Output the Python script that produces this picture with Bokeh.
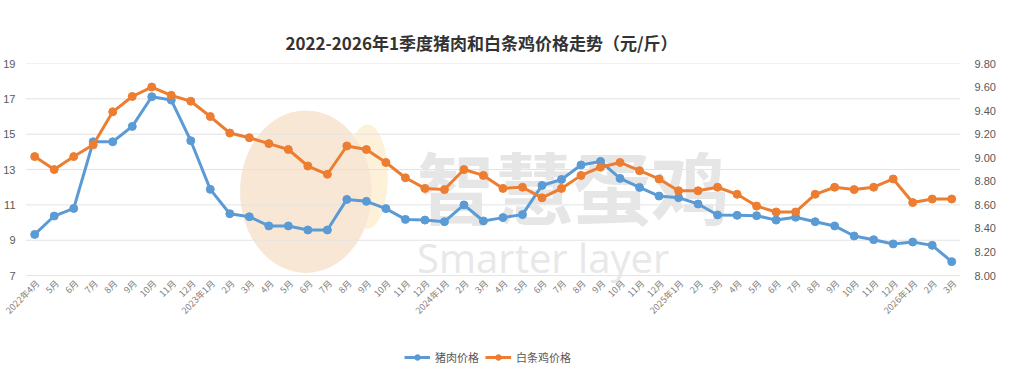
import math
from bokeh.plotting import figure
from bokeh.models import (Range1d, LinearAxis, FixedTicker, NumeralTickFormatter,
                          Legend, LegendItem, Label, ColumnDataSource)
from bokeh.core.properties import value
from bokeh.embed import file_html
from bokeh.resources import INLINE

# ---------------- data ----------------
months = ["2022年4月", "5月", "6月", "7月", "8月", "9月", "10月", "11月", "12月",
          "2023年1月", "2月", "3月", "4月", "5月", "6月", "7月", "8月", "9月", "10月", "11月", "12月",
          "2024年1月", "2月", "3月", "4月", "5月", "6月", "7月", "8月", "9月", "10月", "11月", "12月",
          "2025年1月", "2月", "3月", "4月", "5月", "6月", "7月", "8月", "9月", "10月", "11月", "12月",
          "2026年1月", "2月", "3月"]

pork = [9.33, 10.37, 10.80, 14.57, 14.57, 15.44, 17.12, 16.93, 14.63,
        11.88, 10.50, 10.33, 9.81, 9.81, 9.58, 9.58, 11.31, 11.20, 10.79, 10.18, 10.14,
        10.05, 11.00, 10.09, 10.28, 10.45, 12.10, 12.44, 13.26, 13.46, 12.50, 11.99, 11.50,
        11.41, 11.05, 10.43, 10.41, 10.39, 10.14, 10.30, 10.05, 9.81, 9.24, 9.03, 8.79,
        8.90, 8.71, 7.79]

chicken = [9.01, 8.90, 9.01, 9.11, 9.39, 9.52, 9.60, 9.53, 9.48,
           9.35, 9.21, 9.17, 9.12, 9.07, 8.93, 8.86, 9.10, 9.07, 8.96, 8.83, 8.74,
           8.73, 8.90, 8.85, 8.74, 8.75, 8.66, 8.74, 8.85, 8.92, 8.96, 8.89, 8.82,
           8.72, 8.72, 8.75, 8.69, 8.59, 8.54, 8.54, 8.69, 8.75, 8.73, 8.75, 8.82,
           8.62, 8.65, 8.65]

left_ticks = [7, 9, 11, 13, 15, 17, 19]
right_ticks = [8.0, 8.2, 8.4, 8.6, 8.8, 9.0, 9.2, 9.4, 9.6, 9.8]

series_names = ["猪肉价格", "白条鸡价格"]
title_text = "2022-2026年1季度猪肉和白条鸡价格走势（元/斤）"

BLUE = "#5b9bd5"
ORANGE = "#ed7d31"
CJK = "Noto Sans CJK SC"
NUM = "Liberation Sans"

x = list(range(len(months)))
n = len(months)

# the frame reaches down to the legend and left to the page edge (room for the
# slanted month labels); the value grid itself starts at left_ticks[0]
PAD = 5.37   # left-axis units below the lowest gridline
LPAD = 1.65  # category units left of the first month
ratio = (right_ticks[-1] - right_ticks[0]) / (left_ticks[-1] - left_ticks[0])

p = figure(width=1009, height=375, output_backend="svg", toolbar_location=None,
           x_range=Range1d(-LPAD, n - 1 + 0.45),
           y_range=Range1d(left_ticks[0] - PAD, left_ticks[-1]),
           min_border_left=0, min_border_right=49, min_border_top=63, min_border_bottom=5)
p.extra_y_ranges = {"right": Range1d(right_ticks[0] - PAD * ratio, right_ticks[-1])}

p.outline_line_color = None
p.background_fill_color = "white"
p.border_fill_color = "white"

# title
p.title.text = title_text
p.title.align = "center"
p.title.text_font = CJK
p.title.text_font_size = "17px"
p.title.text_font_style = "bold"
p.title.text_color = "#333333"
p.title.standoff = 17

# watermark (decoration, drawn beneath the data)
p.ellipse(x=17.05, y=12.6, width=2.1, height=5.9, fill_color="#fdf1da", line_color=None,
          level="underlay")
p.ellipse(x=13.9, y=11.75, width=6.75, height=9.2, fill_color="#f9e7d5", line_color=None,
          level="underlay")
p.add_layout(Label(x=19.6, y=12.1, text="智慧蛋鸡", text_font=CJK, text_font_size="78px",
                   text_font_style="bold", text_color="#e6e6e6", text_baseline="middle",
                   level="underlay"))
p.add_layout(Label(x=19.6, y=8.02, text="Smarter layer", text_font="Open Sans",
                   text_font_size="40px", text_color="#e8e8e8", text_baseline="alphabetic",
                   level="underlay"))

# horizontal gridlines spanning the month positions only
p.xgrid.grid_line_color = None
p.ygrid.grid_line_color = None
p.segment(x0=[-0.45] * len(left_ticks), x1=[n - 1 + 0.45] * len(left_ticks),
          y0=left_ticks, y1=left_ticks, line_color="#e3e3e3", line_width=1, level="underlay")

# left axis (labels pulled into the margin next to the grid)
yl = p.yaxis[0]
yl.ticker = FixedTicker(ticks=left_ticks)
yl.axis_line_color = None
yl.major_tick_line_color = None
yl.minor_tick_line_color = None
yl.major_tick_in = 0
yl.major_tick_out = 0
yl.major_label_text_font = NUM
yl.major_label_text_font_size = "11px"
yl.major_label_text_color = "#595959"
yl.major_label_standoff = -13

# right axis
yr = LinearAxis(y_range_name="right", ticker=FixedTicker(ticks=right_ticks),
                formatter=NumeralTickFormatter(format="0.00"))
yr.axis_line_color = None
yr.major_tick_line_color = None
yr.minor_tick_line_color = None
yr.major_label_text_font = NUM
yr.major_label_text_font_size = "11px"
yr.major_label_text_color = "#595959"
yr.major_label_standoff = 8
p.add_layout(yr, "right")

# category (month) labels under the lowest gridline
p.xaxis.visible = False
month_src = ColumnDataSource(dict(x=x, y=[left_ticks[0]] * n, t=months))
p.text(x="x", y="y", text="t", source=month_src, angle=math.pi / 4,
       text_align="right", text_baseline="middle", x_offset=3, y_offset=6,
       text_font=value(CJK), text_font_size="9px", text_color="#7f7f7f")

l1 = p.line(x, pork, line_color=BLUE, line_width=3)
s1 = p.scatter(x, pork, marker="circle", size=8, fill_color=BLUE, line_color=BLUE)
l2 = p.line(x, chicken, line_color=ORANGE, line_width=3, y_range_name="right")
s2 = p.scatter(x, chicken, marker="circle", size=8, fill_color=ORANGE, line_color=ORANGE,
               y_range_name="right")

legend = Legend(items=[LegendItem(label=series_names[0], renderers=[l1, s1]),
                       LegendItem(label=series_names[1], renderers=[l2, s2])],
                orientation="horizontal", location=(402, 5),
                padding=4, margin=0, spacing=6, glyph_width=26, glyph_height=14,
                label_text_font=CJK, label_text_font_size="11px", label_text_color="#595959",
                label_standoff=5, border_line_color=None, background_fill_alpha=0)
p.add_layout(legend, "center")

open("out.html", "w").write(file_html(p, INLINE))
